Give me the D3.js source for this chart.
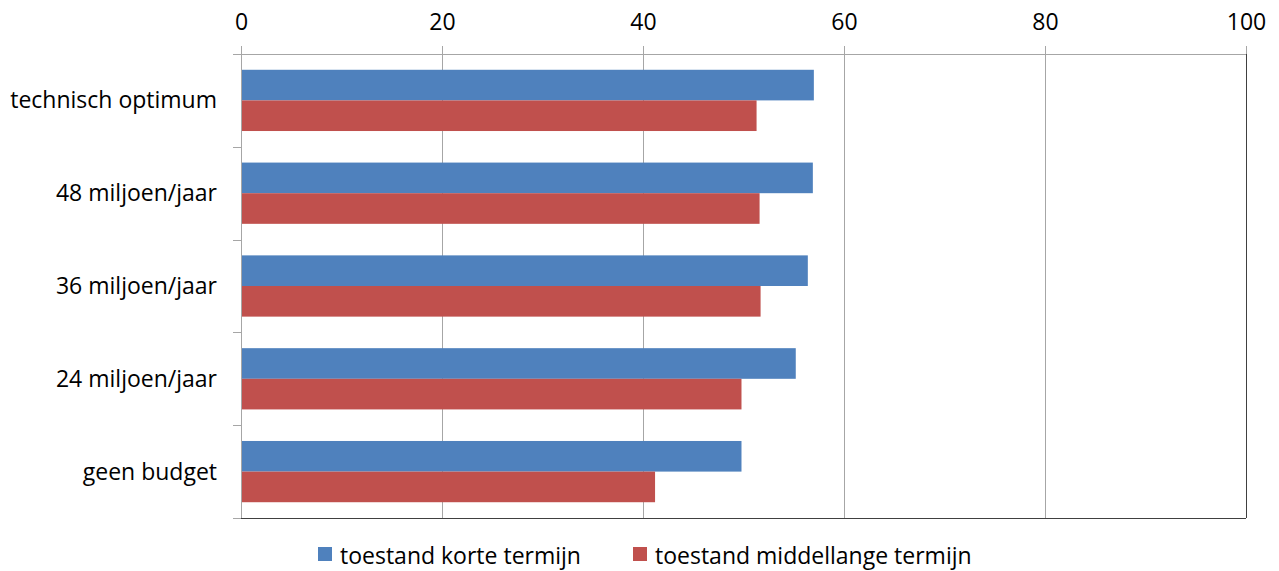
<!DOCTYPE html>
<html>
<head>
<meta charset="utf-8">
<script src="https://cdn.jsdelivr.net/npm/d3@7"></script>
<style>
  body { margin: 0; background: #fff; }
  svg text { font-family: "Open Sans", sans-serif; fill: #000; }
</style>
</head>
<body>
<div id="chart"></div>
<script>

var categories = ["technisch optimum", "48 miljoen/jaar", "36 miljoen/jaar", "24 miljoen/jaar", "geen budget"];
var seriesNames = ["toestand korte termijn", "toestand middellange termijn"];
var korte = [57.0, 56.9, 56.4, 55.2, 49.8];
var middellange = [51.3, 51.6, 51.7, 49.8, 41.2];
var xTicks = [0, 20, 40, 60, 80, 100];
var colors = ["#4F81BD", "#C0504D"];

var W = 1279, H = 571;
var margin = {top: 54, right: 33, bottom: 53, left: 241},
    width = W - margin.left - margin.right,
    height = H - margin.top - margin.bottom;

var svg = d3.select("#chart").append("svg")
    .attr("width", W)
    .attr("height", H)
  .append("g")
    .attr("transform", "translate(" + margin.left + "," + margin.top + ")");

var x = d3.scaleLinear().domain([0, 100]).range([0, width]);
var y = d3.scaleBand().domain(categories).range([0, height])
    .paddingInner(0.34).paddingOuter(0.17);
var ySub = d3.scaleBand().domain([0, 1]).range([0, y.bandwidth()]);

// gridlines
svg.selectAll(".grid")
    .data(xTicks.slice(1))
  .enter().append("line")
    .attr("x1", function(d) { return Math.round(x(d)) + 0.5; })
    .attr("x2", function(d) { return Math.round(x(d)) + 0.5; })
    .attr("y1", -8)
    .attr("y2", height)
    .attr("stroke", function(d) { return d == 100 ? "#404040" : "#a6a6a6"; })
    .attr("stroke-width", 1);

// bars
var data = categories.map(function(c, i) { return {cat: c, vals: [korte[i], middellange[i]]}; });
var groups = svg.selectAll(".grp")
    .data(data)
  .enter().append("g")
    .attr("transform", function(d) { return "translate(0," + y(d.cat) + ")"; });

groups.selectAll("rect")
    .data(function(d) { return d.vals; })
  .enter().append("rect")
    .attr("x", 0)
    .attr("y", function(d, i) { return ySub(i); })
    .attr("width", function(d) { return x(d); })
    .attr("height", ySub.bandwidth())
    .attr("fill", function(d, i) { return colors[i]; });

// top axis
var xAxis = d3.axisTop(x).tickValues(xTicks).tickSize(8).tickPadding(16);
var gx = svg.append("g").call(xAxis);
gx.select(".domain").remove();
gx.selectAll(".tick line").attr("stroke", "#a6a6a6");
gx.selectAll("text").style("font-size", "23px").attr("dy", "0");
svg.append("line")
    .attr("x1", -8).attr("x2", width)
    .attr("y1", 0.5).attr("y2", 0.5)
    .attr("stroke", "#a6a6a6");

// left axis line + ticks at band boundaries
svg.append("line")
    .attr("x1", 0.5).attr("x2", 0.5)
    .attr("y1", -8).attr("y2", height)
    .attr("stroke", "#a6a6a6");
var bounds = d3.range(categories.length + 1).map(function(i) { return i * y.step(); });
svg.selectAll(".ytick")
    .data(bounds)
  .enter().append("line")
    .attr("x1", -8).attr("x2", 0)
    .attr("y1", function(d) { return Math.round(d) + 0.5; })
    .attr("y2", function(d) { return Math.round(d) + 0.5; })
    .attr("stroke", "#a6a6a6");

// bottom line
svg.append("line")
    .attr("x1", 0).attr("x2", width)
    .attr("y1", height + 0.5).attr("y2", height + 0.5)
    .attr("stroke", "#404040");

// category labels
svg.selectAll(".ylab")
    .data(categories)
  .enter().append("text")
    .attr("x", -24)
    .attr("y", function(d) { return y(d) + y.bandwidth() / 2; })
    .attr("dy", "0.35em")
    .attr("text-anchor", "end")
    .style("font-size", "23px")
    .text(function(d) { return d; });

// legend
var legendX = [318, 633];
var legend = svg.selectAll(".legend")
    .data(seriesNames)
  .enter().append("g")
    .attr("transform", function(d, i) { return "translate(" + (legendX[i] - margin.left) + "," + (554 - margin.top) + ")"; });
legend.append("rect")
    .attr("x", 0).attr("y", -7)
    .attr("width", 14).attr("height", 14)
    .attr("fill", function(d, i) { return colors[i]; });
legend.append("text")
    .attr("x", 22).attr("y", 2)
    .attr("dy", "0.35em")
    .style("font-size", "23px")
    .text(function(d) { return d; });

</script>
</body>
</html>
